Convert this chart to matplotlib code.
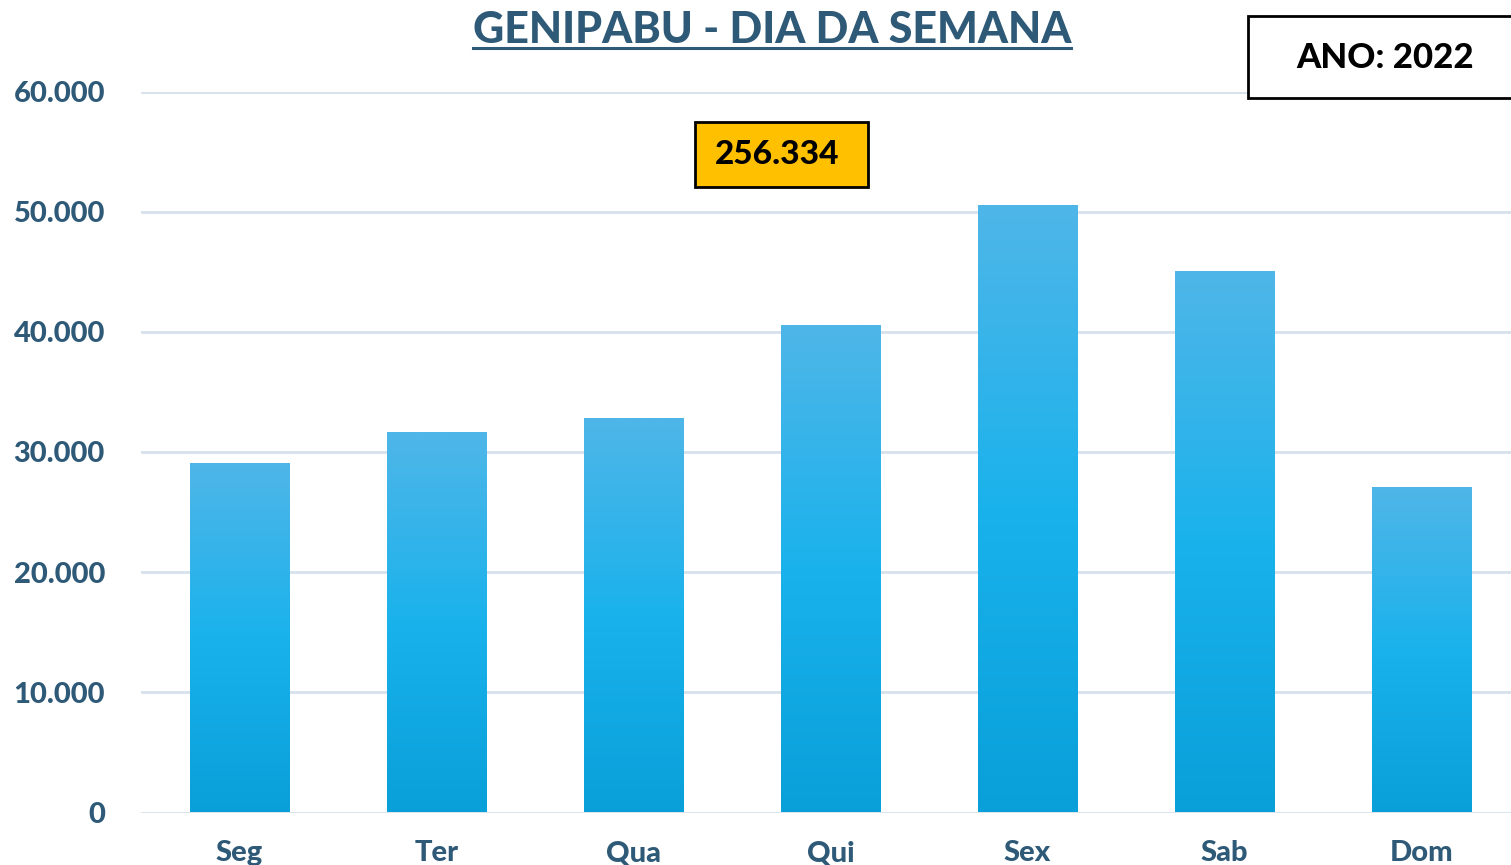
import numpy as np
import matplotlib.pyplot as plt
from matplotlib.colors import LinearSegmentedColormap
from matplotlib.patches import Rectangle
from matplotlib.lines import Line2D

dias = ['Seg', 'Ter', 'Qua', 'Qui', 'Sex', 'Sab', 'Dom']
visitantes = [29000, 31600, 32750, 40500, 50500, 45000, 26980]
total_label = '256.334'
ano_label = 'ANO: 2022'
titulo = 'GENIPABU - DIA DA SEMANA'
yticks = [0, 10000, 20000, 30000, 40000, 50000, 60000]

TXT = '#2E5A78'
plt.rcParams['font.family'] = ['Lato', 'DejaVu Sans']

fig = plt.figure(figsize=(15.11, 8.65), dpi=100)
fig.patch.set_facecolor('white')
# eixo vai um pouco além da borda direita, como no original
ax = fig.add_axes([141 / 1511, 1 - 812.5 / 865, (1520 - 141) / 1511, (812.5 - 91.5) / 865])

grad = LinearSegmentedColormap.from_list('barra', ['#09A0DA', '#1AB2EC', '#4FB6E8'])

bars = ax.bar(range(len(dias)), visitantes, width=0.503, color='none', zorder=3)
gy = np.linspace(0, 1, 256).reshape(-1, 1)
for b in bars:
    x0, w, h = b.get_x(), b.get_width(), b.get_height()
    ax.imshow(gy, cmap=grad, origin='lower', aspect='auto',
              extent=[x0, x0 + w, 0, h], zorder=3, interpolation='bilinear')

ax.set_xlim(-0.5, len(dias) - 0.5)
ax.set_ylim(0, 60000)
ax.set_yticks(yticks)
ax.set_yticklabels([f'{v:,}'.replace(',', '.') for v in yticks])
ax.set_xticks(range(len(dias)))
ax.set_xticklabels(dias)
ax.grid(axis='y', color='#D6E1EC', linewidth=2, zorder=0)
ax.set_axisbelow(True)
for s in ax.spines.values():
    s.set_visible(False)
ax.tick_params(axis='both', length=0, colors=TXT, labelsize=21)
ax.tick_params(axis='y', pad=26)
ax.tick_params(axis='x', pad=20)
for lbl in ax.get_xticklabels() + ax.get_yticklabels():
    lbl.set_fontweight('black')

# titulo sublinhado
t = fig.text(772 / 1511, 1 - 30 / 865, titulo, ha='center', va='center',
             fontsize=31, fontweight='black', color=TXT)
fig.canvas.draw()
bb = t.get_window_extent().transformed(fig.transFigure.inverted())
fig.add_artist(Line2D([bb.x0, bb.x1], [1 - 48 / 865, 1 - 48 / 865], color=TXT, lw=2.2,
                      transform=fig.transFigure))

# caixa total
fig.add_artist(Rectangle((695 / 1511, 1 - 187 / 865), 173 / 1511, 65 / 865,
                         facecolor='#FFC000', edgecolor='black', lw=2, transform=fig.transFigure))
fig.text(777 / 1511, 1 - 155 / 865, total_label, ha='center', va='center',
         fontsize=24, fontweight='black', color='black')

# caixa ano
fig.add_artist(Rectangle((1248 / 1511, 1 - 98 / 865), 280 / 1511, 82 / 865,
                         facecolor='white', edgecolor='black', lw=2, transform=fig.transFigure,
                         clip_on=False, zorder=5))
fig.text(1385 / 1511, 1 - 58 / 865, ano_label, ha='center', va='center',
         fontsize=25, fontweight='black', color='black', zorder=6)

fig.savefig('out.png', dpi=100, facecolor='white')
